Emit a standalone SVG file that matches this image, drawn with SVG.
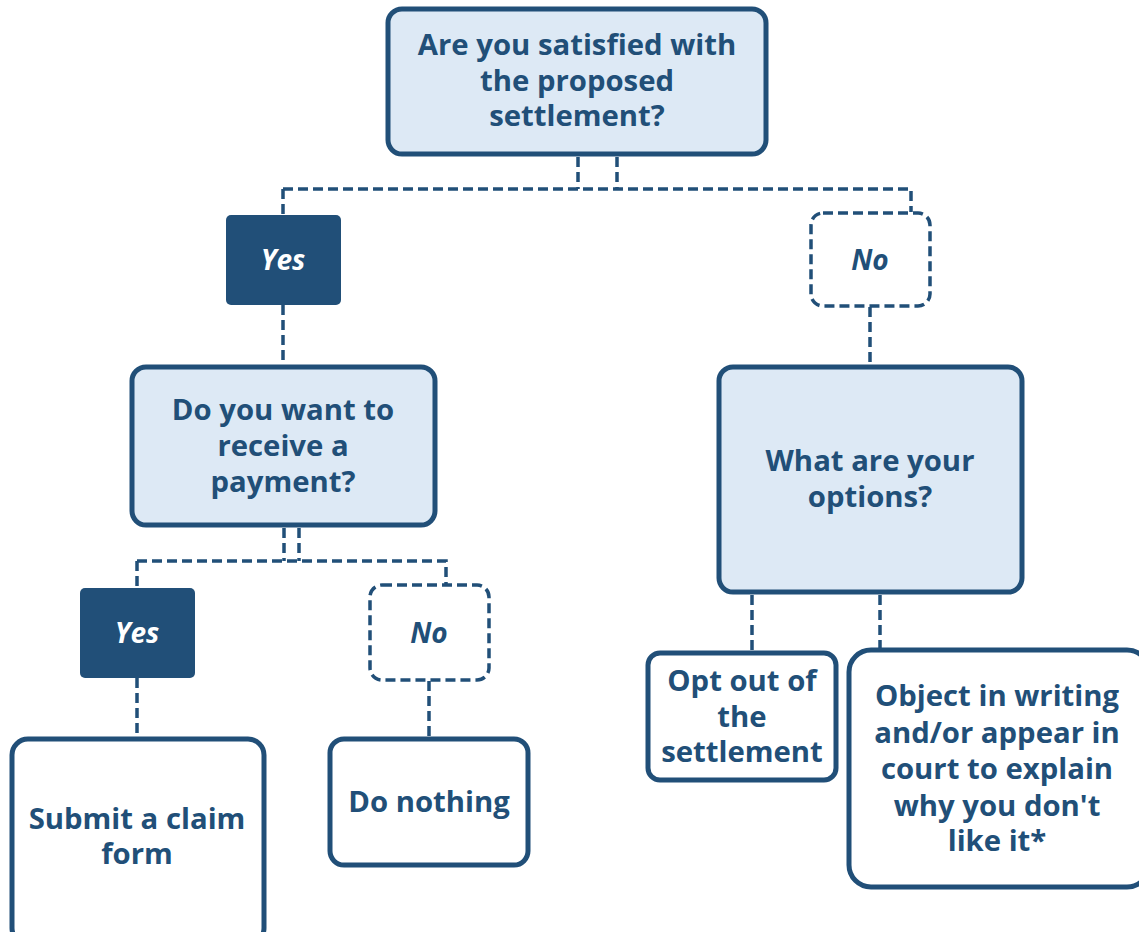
<svg xmlns="http://www.w3.org/2000/svg" width="1139" height="932" viewBox="0 0 1139 932">
<style>
.q{fill:#dde9f5;stroke:#214f78;stroke-width:5}
.a{fill:#fff;stroke:#214f78;stroke-width:5}
.y{fill:#214f78}
.n{fill:#fff;stroke:#214f78;stroke-width:3.5;stroke-dasharray:10 5}
.c{fill:none;stroke:#214f78;stroke-width:3.5;stroke-dasharray:10 5}
text{font-family:"Open Sans","Noto Sans",sans-serif;font-weight:bold;font-size:29.3px;fill:#214f78;text-anchor:middle}
.yt{fill:#fff;font-style:italic;font-size:28px}
.nt{font-style:italic;font-size:28px}
</style>
<rect width="1139" height="932" fill="#fff"/>
<g id="connectors">
<path class="c" d="M578 157V189M617 157V189M283 189H911V212M283 189V215"/>
<path class="c" d="M283 305V366M870 307V366"/>
<path class="c" d="M284 528V561M299 528V561M137 561H446V584M137 561V588"/>
<path class="c" d="M137 678V738M429 681V738"/>
<path class="c" d="M752 595V652M880 595V649"/>
</g>
<g id="q1"><rect class="q" x="388" y="9" width="378" height="145" rx="14"/>
<text x="577" y="55">Are you satisfied with</text><text x="577" y="91">the proposed</text><text x="577" y="126">settlement?</text></g>
<g id="yes1"><rect class="y" x="226" y="215" width="115" height="90" rx="5"/><text class="yt" x="283" y="270">Yes</text></g>
<g id="no1"><rect class="n" x="811" y="213" width="119" height="93" rx="12"/><text class="nt" x="870" y="270">No</text></g>
<g id="q2"><rect class="q" x="132" y="367" width="303" height="158" rx="14"/>
<text x="283" y="420">Do you want to</text><text x="283" y="456">receive a</text><text x="283" y="492">payment?</text></g>
<g id="q3"><rect class="q" x="719" y="367" width="303" height="225" rx="14"/>
<text x="870" y="471">What are your</text><text x="870" y="507">options?</text></g>
<g id="yes2"><rect class="y" x="80" y="588" width="115" height="90" rx="5"/><text class="yt" x="137" y="643">Yes</text></g>
<g id="no2"><rect class="n" x="370" y="585" width="119" height="95" rx="12"/><text class="nt" x="429" y="643">No</text></g>
<g id="submit"><rect class="a" x="12" y="739" width="252" height="205" rx="16"/>
<text x="137" y="829">Submit a claim</text><text x="137" y="864">form</text></g>
<g id="nothing"><rect class="a" x="330" y="739" width="198" height="126" rx="14"/>
<text x="429" y="812">Do nothing</text></g>
<g id="optout"><rect class="a" x="648" y="653" width="188" height="127" rx="12"/>
<text x="742" y="691">Opt out of</text><text x="742" y="727">the</text><text x="742" y="762">settlement</text></g>
<g id="object"><rect class="a" x="849" y="650" width="300" height="237" rx="22"/>
<text x="997" y="706">Object in writing</text><text x="997" y="743">and/or appear in</text><text x="997" y="779">court to explain</text><text x="997" y="816">why you don't</text><text x="997" y="851">like it*</text></g>
</svg>
